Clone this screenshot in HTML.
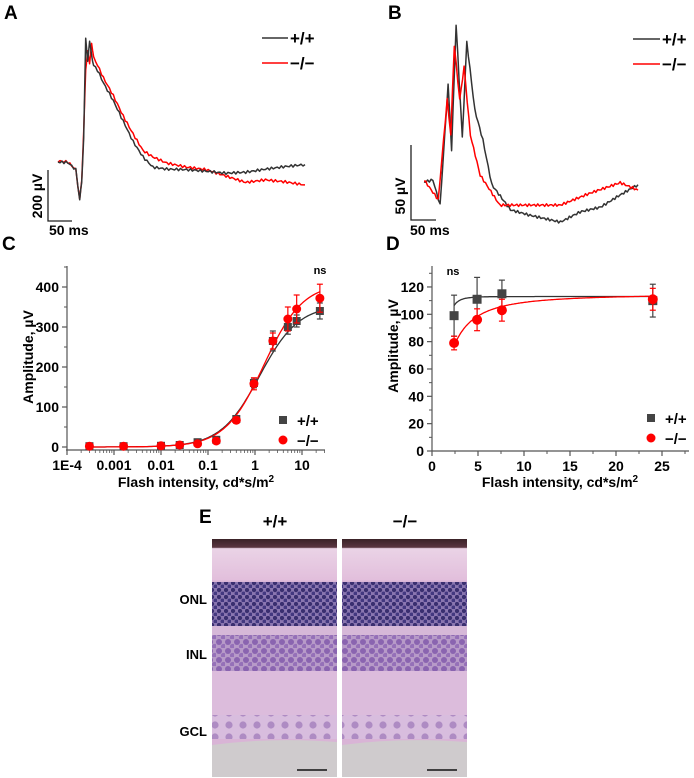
<!DOCTYPE html>
<html><head><meta charset="utf-8">
<style>
html,body{margin:0;padding:0;background:#fff;}
svg{display:block;font-family:"Liberation Sans",Arial,sans-serif;}
.b{font-weight:bold;}
</style></head>
<body>
<svg id="fig" width="694" height="778" viewBox="0 0 694 778" xmlns="http://www.w3.org/2000/svg">
<defs>
<pattern id="onl" width="7" height="7" patternUnits="userSpaceOnUse">
<rect width="7" height="7" fill="#8a76b0"/>
<circle cx="2" cy="2" r="2.2" fill="#3a2f70"/>
<circle cx="5.5" cy="5.5" r="2" fill="#433880"/>
</pattern>
<pattern id="inl" width="9" height="9" patternUnits="userSpaceOnUse">
<rect width="9" height="9" fill="#b79ac8"/>
<circle cx="3" cy="3" r="3" fill="#8a64b0"/>
<circle cx="7.5" cy="7.5" r="2.6" fill="#9570b8"/>
</pattern>
<pattern id="gcl" width="14" height="12" patternUnits="userSpaceOnUse">
<rect width="14" height="12" fill="#d8bfdf"/>
<circle cx="5" cy="5" r="3.6" fill="#a784c0"/>
</pattern>
<linearGradient id="tis" x1="0" y1="0" x2="0" y2="1">
<stop offset="0" stop-color="#3a2228"/>
<stop offset="0.035" stop-color="#5a3540"/>
<stop offset="0.04" stop-color="#ead3e6"/>
<stop offset="0.17" stop-color="#e2bfdc"/>
<stop offset="0.18" stop-color="#d9b4d6"/>
<stop offset="1" stop-color="#d9b4d6"/>
</linearGradient>
</defs>

<text x="4" y="19" font-size="19" class="b">A</text>
<text x="388" y="19" font-size="19" class="b">B</text>
<text x="2" y="250" font-size="19" class="b">C</text>
<text x="386" y="250" font-size="19" class="b">D</text>
<text x="199" y="523" font-size="19" class="b">E</text>

<g id="traceA"></g>
<g id="traceB"></g>

<g stroke="#222" stroke-width="1.3" fill="none">
<polyline points="48,170 48,221 72,221"/>
</g>
<text transform="translate(42,196) rotate(-90)" text-anchor="middle" font-size="14" class="b">200 µV</text>
<text x="49" y="235" font-size="14" class="b">50 ms</text>
<g stroke="#222" stroke-width="1.3" fill="none">
<polyline points="411,145 411,220 436,220"/>
</g>
<text transform="translate(405,196) rotate(-90)" text-anchor="middle" font-size="14" class="b">50 µV</text>
<text x="410" y="235" font-size="14" class="b">50 ms</text>

<g>
<line x1="262" y1="38" x2="288" y2="38" stroke="#333" stroke-width="1.5"/>
<text x="290" y="44" font-size="17" class="b">+/+</text>
<line x1="262" y1="63" x2="288" y2="63" stroke="#f00" stroke-width="1.5"/>
<text x="290" y="69" font-size="17" class="b">−/−</text>
</g>
<g>
<line x1="633" y1="39" x2="660" y2="39" stroke="#333" stroke-width="1.5"/>
<text x="662" y="45" font-size="17" class="b">+/+</text>
<line x1="633" y1="64" x2="660" y2="64" stroke="#f00" stroke-width="1.5"/>
<text x="662" y="70" font-size="17" class="b">−/−</text>
</g>

<g id="chartC"></g>
<g id="chartD"></g>

<g>
<text x="275" y="527" font-size="17" class="b" text-anchor="middle">+/+</text>
<text x="405" y="527" font-size="17" class="b" text-anchor="middle">−/−</text>
<text x="207" y="604" font-size="13" class="b" text-anchor="end">ONL</text>
<text x="207" y="659" font-size="13" class="b" text-anchor="end">INL</text>
<text x="207" y="736" font-size="13" class="b" text-anchor="end">GCL</text>
<g id="histo"></g>
</g>
</svg>
<script>
const NS="http://www.w3.org/2000/svg";
function mk(parent,tag,attrs,text){const e=document.createElementNS(NS,tag);for(const k in attrs)e.setAttribute(k,attrs[k]);if(text!==undefined)e.textContent=text;parent.appendChild(e);return e;}

// ---------- Panel A/B trace data (time in ms, amplitude in µV relative to baseline) ----------
const traceA_t_wt=[0,10,18,22,24,26,28,30,32,34,36,40,46,56,66,76,86,96,110,130,150,170,190,210,230,250];
const traceA_v_wt=[0,-2,-30,-150,-80,100,480,400,470,420,380,360,310,240,160,80,20,-20,-28,-30,-36,-44,-40,-28,-18,-10];
const traceA_t_ko=[0,10,18,22,24,26,28,30,32,34,36,40,46,56,66,76,86,96,110,130,150,170,190,210,230,250];
const traceA_v_ko=[4,0,-30,-150,-70,120,360,440,380,470,410,380,330,260,180,110,45,20,-4,-20,-30,-55,-80,-70,-78,-90];
const traceB_t_wt=[0,10,18,27,31,36,43,48,57,66,76,97,119,153,175,198,220,240];
const traceB_v_wt=[0,3,-34,143,47,231,65,206,106,62,-4,-41,-49,-59,-44,-37,-19,-4];
const traceB_t_ko=[0,16,26,30,34,40,45,52,63,85,108,153,187,220,240];
const traceB_v_ko=[3,-26,121,69,201,121,169,69,10,-34,-34,-34,-16,-1,-12];

function drawTrace(g,t,v,x0,y0,pxPerMs,pxPerUv,color,name,phase){
  let pts=[];
  for(let i=0;i<t.length-1;i++){
    const steps=Math.max(2,Math.round((t[i+1]-t[i])/2));
    for(let s=0;s<steps;s++){
      const f=s/steps;const tt=t[i]+(t[i+1]-t[i])*f;const vv=v[i]+(v[i+1]-v[i])*f;
      const wig=Math.sin(tt*1.3+phase)*1.3;
      pts.push((x0+tt*pxPerMs).toFixed(1)+","+(y0-vv*pxPerUv+wig).toFixed(1));
    }
  }
  pts.push((x0+t[t.length-1]*pxPerMs).toFixed(1)+","+(y0-v[v.length-1]*pxPerUv).toFixed(1));
  const p=mk(g,"polyline",{points:pts.join(" "),fill:"none",stroke:color,"stroke-width":1.5,"stroke-linejoin":"round"});
  
  
}
const gA=document.getElementById("traceA");
drawTrace(gA,traceA_t_ko,traceA_v_ko,58,162,247/250,51/200,"#f00","trace-a-knockout",1);
drawTrace(gA,traceA_t_wt,traceA_v_wt,58,162,247/250,51/200,"#333","trace-a-wildtype",0);
const gB=document.getElementById("traceB");
drawTrace(gB,traceB_t_wt,traceB_v_wt,424,182,214/240,0.68,"#333","trace-b-wildtype",0);
drawTrace(gB,traceB_t_ko,traceB_v_ko,424,182,214/240,0.68,"#f00","trace-b-knockout",2);

// ---------- Chart C ----------
const cX=[0.0003,0.0016,0.01,0.025,0.06,0.15,0.4,0.95,2.4,5,7.7,24];
const cWT=[2,2,3,5,12,18,70,160,265,300,315,340];
const cWTerr=[3,3,3,3,4,5,8,12,25,18,15,20];
const cKO=[2,2,3,5,8,15,67,158,265,320,345,372];
const cKOerr=[3,3,3,3,4,5,8,15,20,30,35,35];
const cFitWT=[355,1.25,1.05];
const cFitKO=[410,1.55,1.05];
const cYTicks=[0,100,200,300,400];
const cXTicks=[0.0001,0.001,0.01,0.1,1,10];
const cXTickLabels=["1E-4","0.001","0.01","0.1","1","10"];

const C={x0:67,x1:325,yTop:266,yBase:447};
function cx(v){return 255+Math.log10(v)*47;}
function cy(v){return 447-v*0.4;}
function hill(p,x){return p[0]*Math.pow(x,p[2])/(Math.pow(x,p[2])+Math.pow(p[1],p[2]));}

const gC=document.getElementById("chartC");
function axisLine(g,x1,y1,x2,y2,name){const l=mk(g,"line",{x1,y1,x2,y2,stroke:"#555","stroke-width":1.2});return l;}
axisLine(gC,C.x0,C.yTop,C.x0,C.yBase+3,"y-axis-c");
axisLine(gC,C.x0-1,C.yBase+3,C.x1,C.yBase+3,"x-axis-c");
cYTicks.forEach(v=>{
  mk(gC,"line",{x1:C.x0-5,y1:cy(v),x2:C.x0,y2:cy(v),stroke:"#555","stroke-width":1.2});
  const t=mk(gC,"text",{x:C.x0-8,y:cy(v)+5,"font-size":14,"font-weight":"bold","text-anchor":"end"},String(v));
  
  
});
for(let v=50;v<=450;v+=100){mk(gC,"line",{x1:C.x0-3,y1:cy(v),x2:C.x0,y2:cy(v),stroke:"#555","stroke-width":1});}
cXTicks.forEach((v,i)=>{
  mk(gC,"line",{x1:cx(v),y1:C.yBase+3,x2:cx(v),y2:C.yBase+8,stroke:"#555","stroke-width":1.2});
  const t=mk(gC,"text",{x:cx(v),y:C.yBase+23,"font-size":14,"font-weight":"bold","text-anchor":"middle"},cXTickLabels[i]);
  
  
  for(let m=2;m<=9;m++){const xm=cx(v*m);if(xm<C.x1)mk(gC,"line",{x1:xm,y1:C.yBase+3,x2:xm,y2:C.yBase+6,stroke:"#555","stroke-width":0.8});}
});
function fitPath(g,xs,color,name){
  const d=xs.map((p,i)=>(i?"L":"M")+p[0].toFixed(1)+","+p[1].toFixed(1)).join("");
  const e=mk(g,"path",{d,fill:"none",stroke:color,"stroke-width":1.3});
  
  
}
function cFit(p){const a=[];for(let lx=-3.5;lx<=1.39;lx+=0.03){const x=Math.pow(10,lx);a.push([cx(x),cy(hill(p,x))]);}return a;}
fitPath(gC,cFit(cFitWT),"#333","fit-curve-c-wildtype");
fitPath(gC,cFit(cFitKO),"#f00","fit-curve-c-knockout");
function errBar(g,x,y1,y2,color){mk(g,"line",{x1:x,y1,x2:x,y2,stroke:color,"stroke-width":1.2});mk(g,"line",{x1:x-3,y1,x2:x+3,y2:y1,stroke:color,"stroke-width":1.2});mk(g,"line",{x1:x-3,y1:y2,x2:x+3,y2,stroke:color,"stroke-width":1.2});}
cX.forEach((x,i)=>{
  errBar(gC,cx(x),cy(cWT[i]+cWTerr[i]),cy(cWT[i]-cWTerr[i]),"#444");
  const s=mk(gC,"rect",{x:cx(x)-4,y:cy(cWT[i])-4,width:8,height:8,fill:"#444"});
  
  
});
cX.forEach((x,i)=>{
  errBar(gC,cx(x),cy(cKO[i]+cKOerr[i]),cy(cKO[i]-cKOerr[i]),"#f00");
  const c=mk(gC,"circle",{cx:cx(x),cy:cy(cKO[i]),r:4.5,fill:"#f00"});
  
  
});
mk(gC,"text",{x:320,y:274,"font-size":11,"font-weight":"bold","text-anchor":"middle"},"ns");
const ytC=mk(gC,"text",{transform:"translate(33,357) rotate(-90)","font-size":14,"font-weight":"bold","text-anchor":"middle"},"Amplitude, µV");

const xtC=mk(gC,"text",{x:196,y:487,"font-size":14,"font-weight":"bold","text-anchor":"middle"},"Flash intensity, cd*s/m");
mk(xtC,"tspan",{dy:-5,"font-size":10},"2");

const lgC=mk(gC,"g",{});

mk(lgC,"rect",{x:279,y:416,width:8,height:8,fill:"#444"});
mk(lgC,"text",{x:297,y:426,"font-size":15,"font-weight":"bold"},"+/+");
mk(lgC,"circle",{cx:283,cy:440,r:4.5,fill:"#f00"});
mk(lgC,"text",{x:297,y:446,"font-size":15,"font-weight":"bold"},"−/−");

// ---------- Chart D ----------
const dX=[2.4,4.9,7.6,24];
const dWT=[99,111,115,110];
const dWTerr=[15,16,10,12];
const dKO=[79,96,103,111];
const dKOerr=[5,8,8,8];
const dFitWT=[113,1.2,4];
const dFitKO=[115,1.5,1.5];
const dYTicks=[0,20,40,60,80,100,120];
const dXTicks=[0,5,10,15,20,25];
const D={x0:432,x1:689,yTop:266,yBase:451};
function dx(v){return 432+v*9.2;}
function dy(v){return 451-v*1.367;}
const gD=document.getElementById("chartD");
axisLine(gD,D.x0,D.yTop,D.x0,D.yBase,"y-axis-d");
axisLine(gD,D.x0,D.yBase,D.x1,D.yBase,"x-axis-d");
dYTicks.forEach(v=>{
  mk(gD,"line",{x1:D.x0-5,y1:dy(v),x2:D.x0,y2:dy(v),stroke:"#555","stroke-width":1.2});
  const t=mk(gD,"text",{x:D.x0-8,y:dy(v)+5,"font-size":14,"font-weight":"bold","text-anchor":"end"},String(v));
  
  
});
for(let v=10;v<=130;v+=20){mk(gD,"line",{x1:D.x0-3,y1:dy(v),x2:D.x0,y2:dy(v),stroke:"#555","stroke-width":1});}
dXTicks.forEach(v=>{
  mk(gD,"line",{x1:dx(v),y1:D.yBase,x2:dx(v),y2:D.yBase+5,stroke:"#555","stroke-width":1.2});
  const t=mk(gD,"text",{x:dx(v),y:D.yBase+20,"font-size":14,"font-weight":"bold","text-anchor":"middle"},String(v));
  
  
  if(v<27.5)mk(gD,"line",{x1:dx(v+2.5),y1:D.yBase,x2:dx(v+2.5),y2:D.yBase+3,stroke:"#555","stroke-width":1});
});
function dFit(p){const a=[];for(let x=2.4;x<=24.01;x+=0.1){a.push([dx(x),dy(hill(p,x))]);}return a;}
fitPath(gD,dFit(dFitWT),"#333","fit-curve-d-wildtype");
fitPath(gD,dFit(dFitKO),"#f00","fit-curve-d-knockout");
dX.forEach((x,i)=>{
  errBar(gD,dx(x),dy(dWT[i]+dWTerr[i]),dy(dWT[i]-dWTerr[i]),"#444");
  const s=mk(gD,"rect",{x:dx(x)-4.5,y:dy(dWT[i])-4.5,width:9,height:9,fill:"#444"});
  
  
});
dX.forEach((x,i)=>{
  errBar(gD,dx(x),dy(dKO[i]+dKOerr[i]),dy(dKO[i]-dKOerr[i]),"#f00");
  const c=mk(gD,"circle",{cx:dx(x),cy:dy(dKO[i]),r:5,fill:"#f00"});
  
  
});
mk(gD,"text",{x:453,y:275,"font-size":11,"font-weight":"bold","text-anchor":"middle"},"ns");
const ytD=mk(gD,"text",{transform:"translate(398,346) rotate(-90)","font-size":14,"font-weight":"bold","text-anchor":"middle"},"Amplitude, µV");

const xtD=mk(gD,"text",{x:560,y:487,"font-size":14,"font-weight":"bold","text-anchor":"middle"},"Flash intensity, cd*s/m");
mk(xtD,"tspan",{dy:-5,"font-size":10},"2");

const lgD=mk(gD,"g",{});

mk(lgD,"rect",{x:647,y:414,width:8,height:8,fill:"#444"});
mk(lgD,"text",{x:665,y:424,"font-size":15,"font-weight":"bold"},"+/+");
mk(lgD,"circle",{cx:651,cy:438,r:4.5,fill:"#f00"});
mk(lgD,"text",{x:665,y:444,"font-size":15,"font-weight":"bold"},"−/−");

// ---------- Panel E histology ----------
const gH=document.getElementById("histo");
[[212,"histology-image-wildtype"],[342,"histology-image-knockout"]].forEach(([x,name])=>{
  const g=mk(gH,"g",{});
  
  
  const w=125;
  mk(g,"rect",{x,y:539,width:w,height:238,fill:"url(#tis)"});
  mk(g,"rect",{x,y:582,width:w,height:44,fill:"url(#onl)"});
  mk(g,"rect",{x,y:626,width:w,height:9,fill:"#d6b8d8"});
  mk(g,"rect",{x,y:635,width:w,height:36,fill:"url(#inl)"});
  mk(g,"rect",{x,y:671,width:w,height:44,fill:"#dcbcdc"});
  mk(g,"rect",{x,y:715,width:w,height:24,fill:"url(#gcl)",opacity:0.85});
  mk(g,"path",{d:`M${x},745 Q${x+60},737 ${x+w},742 L${x+w},777 L${x},777 Z`,fill:"#cfcbcd"});
  mk(g,"line",{x1:x+w-40,y1:770,x2:x+w-10,y2:770,stroke:"#111","stroke-width":1.5});
});
</script>
</body></html>
